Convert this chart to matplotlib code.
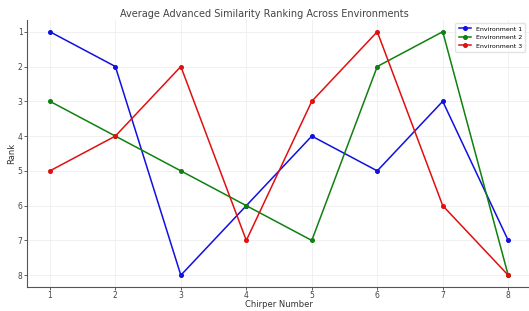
import matplotlib
matplotlib.use("Agg")
import matplotlib.pyplot as plt

chirpers = [1, 2, 3, 4, 5, 6, 7, 8]
env1 = [1, 2, 8, 6, 4, 5, 3, 7]
env2 = [3, 4, 5, 6, 7, 2, 1, 8]
env3 = [5, 4, 2, 7, 3, 1, 6, 8]
labels = ["Environment 1", "Environment 2", "Environment 3"]
colors = ["#1010e0", "#108010", "#e01010"]

fig = plt.figure(figsize=(5.29, 3.11), dpi=100)
ax = fig.add_axes([0.051, 0.077, 0.953, 0.859])
for ys, lab, c in zip([env1, env2, env3], labels, colors):
    ax.plot(chirpers, ys, marker="o", markersize=2.6, linewidth=1.1, color=c, label=lab)

ax.set_xlim(0.65, 8.35)
ax.set_ylim(8.34, 0.66)
ax.set_xticks(chirpers)
ax.set_yticks(range(1, 9))
ax.grid(True, color="#eeeeee", linewidth=0.6)
for s in ["top", "right"]:
    ax.spines[s].set_visible(False)
for s in ["left", "bottom"]:
    ax.spines[s].set_color("#555555")
    ax.spines[s].set_linewidth(0.8)
ax.tick_params(labelsize=5.5, colors="#444444", length=2, width=0.6, pad=1.2)
ax.set_xlabel("Chirper Number", fontsize=6, color="#333333", labelpad=0)
ax.set_ylabel("Rank", fontsize=6, color="#333333", labelpad=1)
fig.suptitle("Average Advanced Similarity Ranking Across Environments", fontsize=7,
             color="#444444", y=0.972)
leg = ax.legend(loc="upper right", bbox_to_anchor=(0.995, 1.0), fontsize=4.5, frameon=True,
                handlelength=2, borderpad=0.5, labelspacing=0.5)
leg.get_frame().set_edgecolor("#dddddd")
fig.savefig("out.png", dpi=100)
